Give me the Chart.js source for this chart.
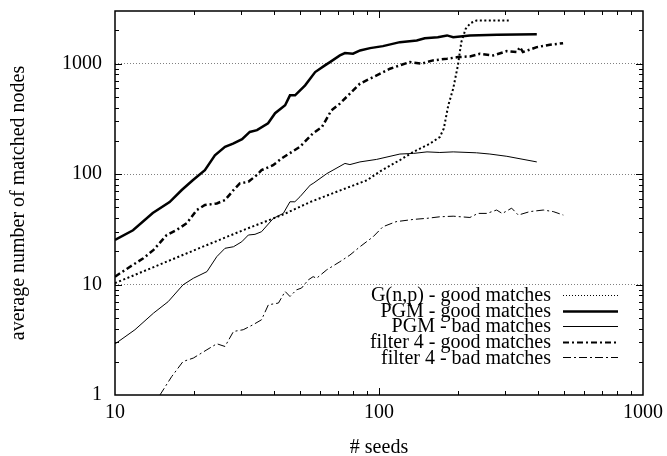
<!DOCTYPE html>
<html>
<head>
<meta charset="utf-8">
<style>
    html, body { margin: 0; padding: 0; background: #fff; }
    #wrap { width: 667px; height: 456px; }
</style>
</head>
<body>
<div id="wrap"><canvas id="myChart" width="667" height="456"></canvas></div>
<script src="https://cdn.jsdelivr.net/npm/chart.js@4.4.0/dist/chart.umd.min.js"></script>
<script>
    // values (log-log)
    var gnpGoodX = [10, 20, 30, 43, 55, 70, 90, 101, 120, 135, 156, 170, 176, 183, 191, 199, 205, 213, 222, 234, 270, 310];
    var gnpGoodY = [10.3, 20.5, 30.5, 42.7, 56, 70, 88, 106, 134, 159, 189, 217, 259, 420, 594, 965, 1567, 2070, 2330, 2460, 2460, 2460];

    var pgmGoodX = [10, 11.7, 13.9, 16.1, 17.9, 19.7, 21.9, 23.9, 26.1, 28, 30.3, 32.4, 34.5, 38, 40.4, 44.1, 46, 48.1, 52.5, 57.3, 62.4, 65.2, 71.1, 74.3, 79.7, 84.8, 92.5, 103.5, 120, 139, 149, 167, 181, 191, 221, 280, 396];
    var pgmGoodY = [25.4, 31, 44.4, 55.8, 71.8, 88, 108.6, 148, 176.6, 189, 207, 241, 250, 289, 356, 420, 517, 517, 637, 840, 965, 1034, 1189, 1247, 1231, 1318, 1383, 1442, 1567, 1622, 1701, 1738, 1803, 1738, 1803, 1830, 1850];

    var pgmBadX = [10, 11.9, 14.0, 15.9, 18.1, 19.8, 22.3, 24.3, 26.1, 28.1, 30.2, 32.0, 33.9, 35.9, 39.8, 43.4, 46, 48, 50.2, 54.9, 56.3, 63.4, 74.3, 77.6, 84.7, 98, 120, 135, 152, 170, 191, 234, 263, 305, 396];
    var pgmBadY = [2.9, 3.9, 5.52, 7.0, 9.94, 11.4, 13.1, 17.9, 21.3, 22.0, 24.4, 28.1, 28.5, 30.1, 39.8, 44.1, 56.2, 56.2, 62.4, 79.6, 82.4, 101, 125, 122, 129, 136, 152, 154, 159, 157, 159, 156, 152, 145, 129];

    var f4GoodX = [10, 11.4, 12.8, 14.0, 15.7, 17.1, 18.7, 20.4, 21.9, 24.3, 26.1, 28.1, 29.7, 32.0, 34.4, 35.9, 39.7, 42.9, 46.0, 50.2, 56.2, 60.8, 66, 71.1, 77.6, 84.7, 90.8, 101, 110, 120, 131, 145, 160, 181, 199, 221, 241, 271, 305, 333, 342, 351, 396, 444, 498];
    var f4GoodY = [11.8, 14.5, 17.3, 20.6, 28.1, 31.2, 35.9, 47.3, 52.5, 54.3, 58.2, 71.6, 82.4, 85.2, 98, 108.7, 120.5, 139.5, 155, 177, 234, 267, 378, 435, 536, 660, 717, 812, 901, 966, 1034, 1000, 1071, 1110, 1147, 1164, 1230, 1188, 1300, 1274, 1412, 1274, 1412, 1485, 1535];

    var f4BadX = [14.8, 16.4, 18.1, 19.8, 22.3, 24.3, 26.1, 28.1, 30.6, 33.3, 35.9, 38.1, 41.6, 44.1, 46, 48.7, 50.9, 53.9, 56.3, 58, 63.4, 71.1, 77.6, 84.7, 95, 103.5, 116, 135, 152, 170, 191, 221, 237, 256, 279, 293, 318, 337, 373, 419, 457, 499];
    var f4BadY = [1.0, 1.47, 2.01, 2.16, 2.57, 2.91, 2.75, 3.76, 3.9, 4.32, 4.8, 6.56, 6.8, 8.66, 7.8, 8.96, 9.3, 11.0, 11.8, 11.4, 13.6, 16.1, 18.5, 22.0, 27.1, 33.4, 37.1, 38.9, 39.8, 41.1, 41.6, 40.5, 44.1, 44.1, 47.3, 44, 49.2, 42.6, 45.8, 47.3, 45.8, 42.6];

    var seriesLabels = ['G(n,p) - good matches', 'PGM - good matches', 'PGM - bad matches', 'filter 4 - good matches', 'filter 4 - bad matches'];

    // tick labels and tick marks
    var xTickValues = [10, 100, 1000];
    var yTickValues = [1, 10, 100, 1000];
    var xMajorMarks = [100];
    var xMinorMarks = [20, 30, 40, 50, 60, 70, 80, 90, 200, 300, 400, 500, 600, 700, 800, 900];
    var yMajorMarks = [10, 100, 1000];
    var yMinorMarks = [2, 3, 4, 5, 6, 7, 8, 9, 20, 30, 40, 50, 60, 70, 80, 90, 200, 300, 400, 500, 600, 700, 800, 900, 2000];

    function pts(xs, ys) {
        return xs.map(function (x, i) { return { x: x, y: ys[i] }; });
    }

    var serif = '"Liberation Serif", "Times New Roman", serif';
    Chart.defaults.font.family = serif;
    Chart.defaults.font.size = 20;
    Chart.defaults.color = '#000';

    //边框 + 内向刻度
    var frameTicks = {
        id: 'frameTicks',
        afterDatasetsDraw: function (chart) {
            var ctx = chart.ctx, a = chart.chartArea;
            var sx = chart.scales.x, sy = chart.scales.y;
            ctx.save();
            ctx.strokeStyle = '#000';
            ctx.lineWidth = 1;
            ctx.beginPath();
            function xMark(v, len) {
                var px = Math.round(sx.getPixelForValue(v)) + 0.5;
                ctx.moveTo(px, a.bottom); ctx.lineTo(px, a.bottom - len);
                ctx.moveTo(px, a.top); ctx.lineTo(px, a.top + len);
            }
            function yMark(v, len) {
                var py = Math.round(sy.getPixelForValue(v)) + 0.5;
                ctx.moveTo(a.left, py); ctx.lineTo(a.left + len, py);
                ctx.moveTo(a.right, py); ctx.lineTo(a.right - len, py);
            }
            xMajorMarks.forEach(function (v) { xMark(v, 7); });
            xMinorMarks.forEach(function (v) { xMark(v, 4); });
            yMajorMarks.forEach(function (v) { yMark(v, 7); });
            yMinorMarks.forEach(function (v) { yMark(v, 4); });
            ctx.stroke();
            ctx.lineWidth = 1.5;
            ctx.strokeRect(a.left, a.top, a.right - a.left, a.bottom - a.top);
            ctx.restore();
        }
    };

    //图例（右下，文字右对齐，线样在右）
    var insideKey = {
        id: 'insideKey',
        afterDraw: function (chart) {
            var ctx = chart.ctx, a = chart.chartArea;
            ctx.save();
            ctx.font = '20px ' + serif;
            ctx.textAlign = 'right';
            ctx.textBaseline = 'middle';
            ctx.fillStyle = '#000';
            chart.data.datasets.forEach(function (ds, i) {
                var y = a.bottom - 100 + i * 15.6;
                ctx.fillText(ds.label, a.right - 92, y + 1);
                ctx.beginPath();
                ctx.strokeStyle = '#000';
                ctx.lineWidth = ds.keyWidth;
                ctx.setLineDash(ds.keyDash);
                ctx.moveTo(a.right - 80, Math.round(y) + 0.5);
                ctx.lineTo(a.right - 25, Math.round(y) + 0.5);
                ctx.stroke();
            });
            ctx.restore();
        }
    };

    var ctx = document.getElementById('myChart').getContext('2d');
    var myChart = new Chart(ctx, {
        type: 'line',
        data: {
            datasets: [{
                label: seriesLabels[0],
                data: pts(gnpGoodX, gnpGoodY),
                borderColor: '#000',
                borderWidth: 2,
                borderDash: [2, 2.5],
                keyWidth: 1,
                keyDash: [1, 2]
            }, {
                label: seriesLabels[1],
                data: pts(pgmGoodX, pgmGoodY),
                borderColor: '#000',
                borderWidth: 2.5,
                borderDash: [],
                keyWidth: 2.5,
                keyDash: []
            }, {
                label: seriesLabels[2],
                data: pts(pgmBadX, pgmBadY),
                borderColor: '#000',
                borderWidth: 1,
                borderDash: [],
                keyWidth: 1,
                keyDash: []
            }, {
                label: seriesLabels[3],
                data: pts(f4GoodX, f4GoodY),
                borderColor: '#000',
                borderWidth: 2.5,
                borderDash: [6, 3, 2, 3],
                keyWidth: 2,
                keyDash: [6, 3, 2, 3]
            }, {
                label: seriesLabels[4],
                data: pts(f4BadX, f4BadY),
                borderColor: '#000',
                borderWidth: 1,
                borderDash: [8, 3, 2, 3],
                keyWidth: 1,
                keyDash: [8, 3, 2, 3]
            }]
        },
        options: {
            responsive: false,
            animation: false,
            devicePixelRatio: 1,
            layout: { padding: { left: 0, right: 24, top: 11, bottom: 0 } },
            elements: {
                point: { radius: 0, hoverRadius: 0 },
                line: { tension: 0, fill: false, borderCapStyle: 'butt' }
            },
            plugins: {
                legend: { display: false },
                tooltip: { enabled: false }
            },
            scales: {
                x: {
                    type: 'logarithmic',
                    min: 10,
                    max: 1000,
                    afterBuildTicks: function (s) {
                        s.ticks = xTickValues.map(function (v) { return { value: v }; });
                    },
                    afterFit: function (s) {
                        s.height = 61;
                        s.paddingLeft = 0; s.paddingRight = 0;
                    },
                    ticks: {
                        autoSkip: false,
                        maxRotation: 0,
                        padding: 6,
                        callback: function (v) { return String(v); }
                    },
                    grid: { drawOnChartArea: false, drawTicks: false },
                    border: { display: false },
                    title: {
                        display: true,
                        text: '# seeds',
                        font: { size: 20, lineHeight: 0.8 },
                        padding: { top: 0, bottom: 0 }
                    }
                },
                y: {
                    type: 'logarithmic',
                    min: 1,
                    max: 3000,
                    afterBuildTicks: function (s) {
                        s.ticks = yTickValues.map(function (v) { return { value: v }; });
                    },
                    afterFit: function (s) {
                        s.width = 115;
                        s.paddingTop = 0; s.paddingBottom = 0;
                    },
                    ticks: {
                        padding: 13,
                        callback: function (v) { return String(v); }
                    },
                    grid: {
                        drawTicks: false,
                        lineWidth: 1,
                        color: function (c) {
                            return (c.tick && c.tick.value > 1) ? '#808080' : 'rgba(0,0,0,0)';
                        }
                    },
                    border: { display: false, dash: [1, 2] },
                    title: {
                        display: true,
                        text: 'average number of matched nodes',
                        font: { size: 20, lineHeight: 1 },
                        padding: { top: 9, bottom: 0 }
                    }
                }
            }
        },
        plugins: [frameTicks, insideKey]
    });
</script>
</body>
</html>
